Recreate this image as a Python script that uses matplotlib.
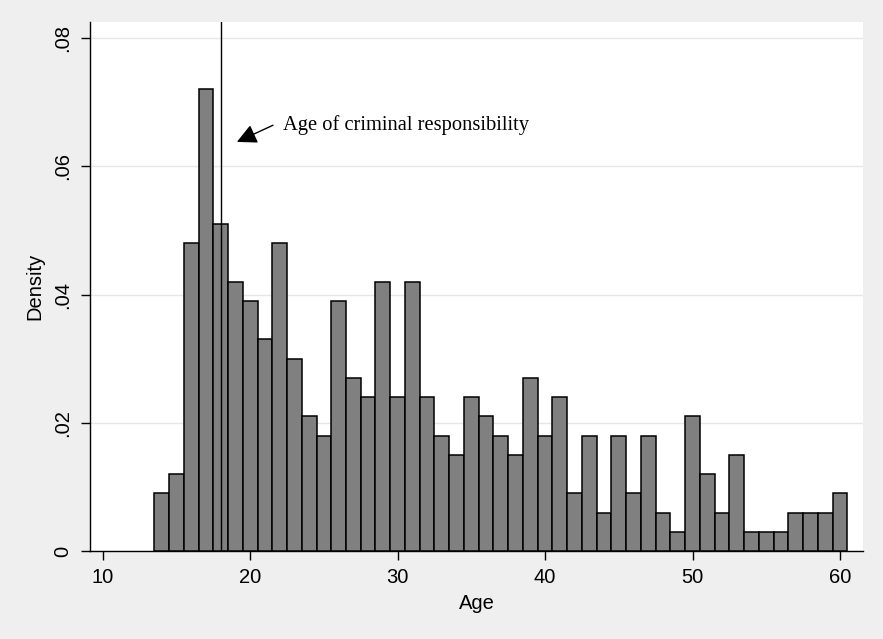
import matplotlib.pyplot as plt

# ages (bin centres, width 1) and histogram density
ages = list(range(14, 61))
density = [0.009, 0.012, 0.048, 0.072, 0.051, 0.042, 0.039, 0.033, 0.048, 0.030,
           0.021, 0.018, 0.039, 0.027, 0.024, 0.042, 0.024, 0.042, 0.024, 0.018,
           0.015, 0.024, 0.021, 0.018, 0.015, 0.027, 0.018, 0.024, 0.009, 0.018,
           0.006, 0.018, 0.009, 0.018, 0.006, 0.003, 0.021, 0.012, 0.006, 0.015,
           0.003, 0.003, 0.003, 0.006, 0.006, 0.006, 0.009]
x_ticks = [10, 20, 30, 40, 50, 60]
y_ticks = [0, 0.02, 0.04, 0.06, 0.08]
y_labels = ["0", ".02", ".04", ".06", ".08"]
cutoff_age = 18

plt.rcParams['font.family'] = ['Liberation Sans Narrow', 'Liberation Sans', 'DejaVu Sans']

fig = plt.figure(figsize=(8.83, 6.39), dpi=100, facecolor='#efefef')
ax = fig.add_axes([90 / 883, 1 - 551 / 639, (863 - 90) / 883, (551 - 22) / 639])
ax.set_facecolor('white')

ax.bar(ages, density, width=1.0, color='#808080', edgecolor='black', linewidth=1.1, zorder=3)
ax.axvline(cutoff_age, color='black', linewidth=1.0, zorder=4)

# arrow + label
ax.annotate("", xy=(19.1, 0.0638), xytext=(21.55, 0.0664),
            arrowprops=dict(arrowstyle='-|>,head_length=0.6,head_width=0.3', color='black',
                            lw=1.0, mutation_scale=20, shrinkA=0, shrinkB=0))
ax.text(22.2, 0.0665, "Age of criminal responsibility", fontsize=14.8,
        family=['Liberation Serif', 'DejaVu Serif'], va='center', ha='left')

ax.set_xlim(9.14, 61.56)
ax.set_ylim(0, 0.0825)
ax.set_xticks(x_ticks)
ax.set_yticks(y_ticks)
ax.set_yticklabels(y_labels, rotation=90, va='center')
ax.tick_params(axis='both', labelsize=14.5, length=6.5, width=1, color='black')
ax.tick_params(axis='x', pad=6)
ax.tick_params(axis='y', pad=6.5)
ax.grid(axis='y', color='#e6e6e6', linewidth=1.0, zorder=0)
ax.set_axisbelow(True)

for s in ['top', 'right']:
    ax.spines[s].set_visible(False)
for s in ['left', 'bottom']:
    ax.spines[s].set_linewidth(1.0)

ax.set_xlabel("Age", fontsize=14.5, labelpad=5)
ax.set_ylabel("Density", fontsize=14.5, labelpad=6)

fig.savefig("out.png", dpi=100, facecolor=fig.get_facecolor())
